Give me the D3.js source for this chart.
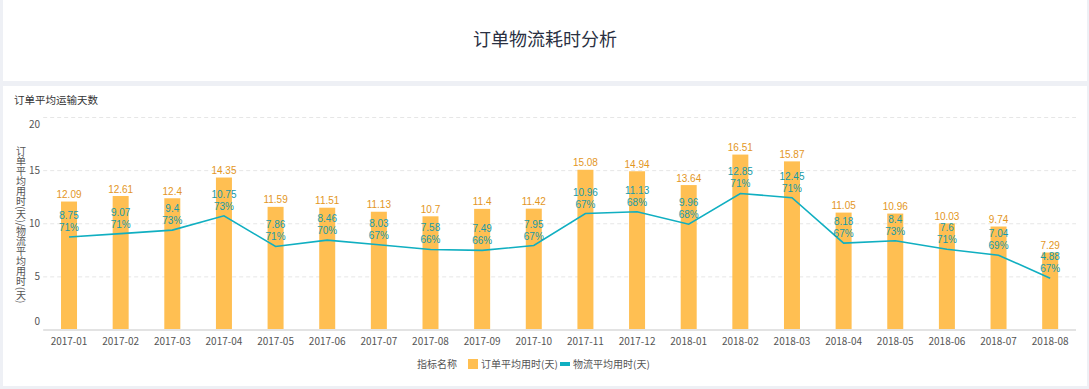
<!DOCTYPE html>
<html><head><meta charset="utf-8">
<script src="https://cdn.jsdelivr.net/npm/d3@7"></script>
<style>
html,body{margin:0;padding:0;background:#eef0f5;}
svg{display:block;font-family:"Noto Sans CJK SC","Noto Sans",sans-serif;}
.num{font-family:"Liberation Sans",Arial,sans-serif;}
</style></head>
<body>
<svg id="chart" width="1089" height="389"></svg>
<script>
const categories = ["2017-01","2017-02","2017-03","2017-04","2017-05","2017-06","2017-07","2017-08","2017-09","2017-10","2017-11","2017-12","2018-01","2018-02","2018-03","2018-04","2018-05","2018-06","2018-07","2018-08"];
const orderDays = [12.09,12.61,12.4,14.35,11.59,11.51,11.13,10.7,11.4,11.42,15.08,14.94,13.64,16.51,15.87,11.05,10.96,10.03,9.74,7.29];
const logisticsDays = [8.75,9.07,9.4,10.75,7.86,8.46,8.03,7.58,7.49,7.95,10.96,11.13,9.96,12.85,12.45,8.18,8.4,7.6,7.04,4.88];
const logisticsPct = [71,71,73,73,71,70,67,66,66,67,67,68,68,71,71,67,73,71,69,67];
const yTicks = [0,5,10,15,20];
const seriesNames = ["订单平均用时(天)","物流平均用时(天)"];

const svg = d3.select("#chart");
// panels
svg.append("rect").attr("x",3).attr("y",0).attr("width",1084).attr("height",81).attr("fill","#fff");
svg.append("rect").attr("x",3).attr("y",86).attr("width",1084).attr("height",300).attr("fill","#fff");

svg.append("text").attr("x",545).attr("y",46).attr("text-anchor","middle")
  .attr("font-size",18).attr("fill","#2a3042").text("订单物流耗时分析");
svg.append("text").attr("x",14).attr("y",104).attr("font-size",10.5).attr("fill","#333").text("订单平均运输天数");

const x = d3.scaleBand().domain(categories).range([43.2,1076]);
const y = d3.scaleLinear().domain([0,20]).range([330,117.5]);

const orange = "#ffbf52", teal = "#10afc1";

// grid
svg.append("g").selectAll("line").data(yTicks.filter(d=>d>0)).join("line")
  .attr("x1",43.2).attr("x2",1076).attr("y1",d=>y(d)).attr("y2",d=>y(d))
  .attr("stroke","#e6e6e6").attr("stroke-dasharray","4,3");

// y labels
svg.append("g").selectAll("text").data(yTicks).join("text")
  .attr("x",40).attr("y",d=> y(d) + (d===0?-9:(d===20?6.5:0)))
  .attr("dy","0.35em").attr("text-anchor","end").attr("font-size",10).attr("fill","#555")
  .text(d=>d);

// axis title vertical
svg.append("text").attr("x",21).attr("y",146)
  .attr("font-size",10).attr("fill","#555")
  .style("writing-mode","vertical-rl")
  .text(seriesNames.join("/"));

// bars
const bw = 16;
svg.append("g").selectAll("rect").data(orderDays).join("rect")
  .attr("x",(d,i)=>x(categories[i])+x.bandwidth()/2-bw/2).attr("width",bw)
  .attr("y",d=>y(d)).attr("height",d=>y(0)-y(d)).attr("fill",orange);

// x axis line
svg.append("line").attr("x1",43.2).attr("x2",1076).attr("y1",330).attr("y2",330)
  .attr("stroke","#e3e3e3").attr("stroke-width",2);

// x labels
svg.append("g").selectAll("text").data(categories).join("text")
  .attr("x",d=>x(d)+x.bandwidth()/2).attr("y",341).attr("dy","0.35em")
  .attr("text-anchor","middle").attr("font-size",10).attr("fill","#555").text(d=>d);

// line
const cx = i => x(categories[i])+x.bandwidth()/2;
svg.append("path").datum(logisticsDays)
  .attr("d", d3.line().x((d,i)=>cx(i)).y(d=>y(d)))
  .attr("fill","none").attr("stroke",teal).attr("stroke-width",1.6);

// bar labels
svg.append("g").selectAll("text").data(orderDays).join("text").attr("class","num")
  .attr("x",(d,i)=>cx(i)).attr("y",d=>y(d)-7).attr("dy","0.35em")
  .attr("text-anchor","middle").attr("font-size",10).attr("fill","#e3961e").text(d=>d);

// line labels (two-line single text)
const ll = svg.append("g").selectAll("text").data(logisticsDays).join("text").attr("class","num")
  .attr("text-anchor","middle").attr("font-size",10).attr("fill","#169aa8");
ll.append("tspan").attr("x",(d,i)=>cx(i)).attr("y",d=>y(d)-21.5).attr("dy","0.35em").text(d=>d);
ll.append("tspan").attr("x",(d,i)=>cx(i)).attr("y",d=>y(d)-9.5).attr("dy","0.35em").text((d,i)=>logisticsPct[i]+"%");

// legend
const lg = svg.append("g").attr("font-size",10).attr("fill","#555");
lg.append("text").attr("x",417).attr("y",364).attr("dy","0.35em").text("指标名称");
lg.append("rect").attr("x",468).attr("y",359).attr("width",10).attr("height",10).attr("fill",orange);
lg.append("text").attr("x",481).attr("y",364).attr("dy","0.35em").text(seriesNames[0]);
lg.append("rect").attr("x",560).attr("y",362).attr("width",10).attr("height",4).attr("fill",teal);
lg.append("text").attr("x",573).attr("y",364).attr("dy","0.35em").text(seriesNames[1]);
</script>
</body></html>
